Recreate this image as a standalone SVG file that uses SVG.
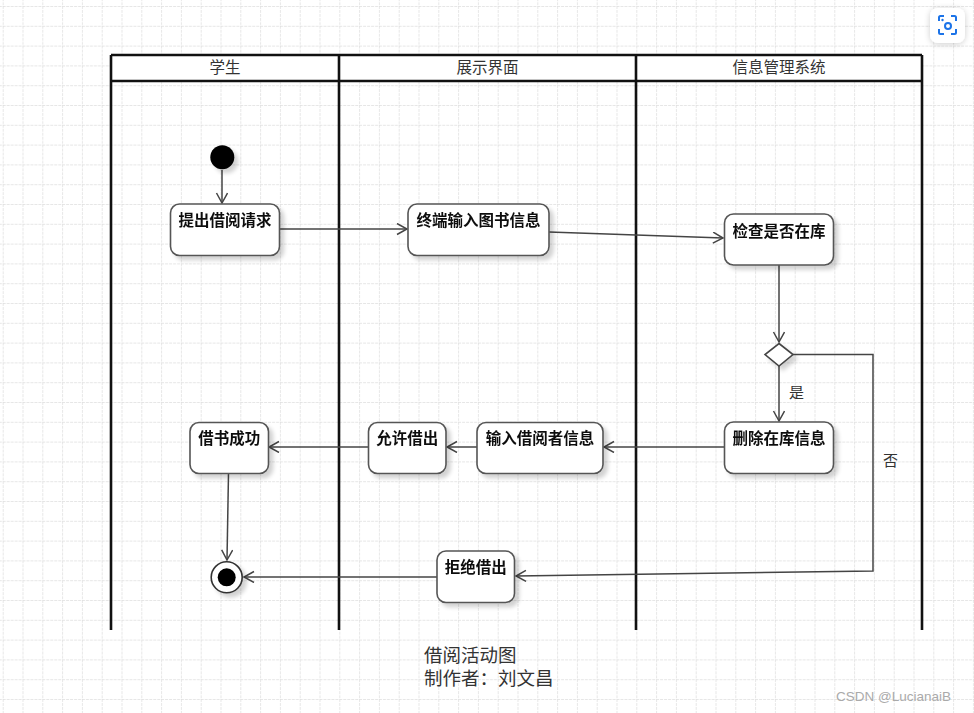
<svg xmlns="http://www.w3.org/2000/svg" width="974" height="713" viewBox="0 0 974 713">
<defs>
<pattern id="grid" x="2.7" y="6" width="19.8" height="19.8" patternUnits="userSpaceOnUse">
<path d="M0,0 H19.8 M0,0 V19.8" stroke="#dedede" stroke-width="1.4" fill="none" stroke-dasharray="3 1"/>
</pattern>
<filter id="sh" x="-20%" y="-20%" width="150%" height="160%">
<feGaussianBlur in="SourceAlpha" stdDeviation="2"/>
<feOffset dx="4" dy="4" result="b"/>
<feComponentTransfer><feFuncA type="linear" slope="0.18"/></feComponentTransfer>
<feMerge><feMergeNode/><feMergeNode in="SourceGraphic"/></feMerge>
</filter>
<filter id="ish" x="-50%" y="-50%" width="200%" height="200%">
<feGaussianBlur in="SourceAlpha" stdDeviation="3"/>
<feOffset dx="0" dy="1"/>
<feComponentTransfer><feFuncA type="linear" slope="0.2"/></feComponentTransfer>
<feMerge><feMergeNode/><feMergeNode in="SourceGraphic"/></feMerge>
</filter>
<marker id="arr" markerWidth="14" markerHeight="14" refX="11" refY="6" orient="auto" markerUnits="userSpaceOnUse">
<path d="M1,0.5 L11,6 L1,11.5" fill="none" stroke="#444" stroke-width="1.5"/>
</marker>
<style>
.lane{stroke:#111;stroke-width:2.6;fill:none}
.hdr{font-family:"Noto Sans CJK SC","Liberation Sans",sans-serif;font-size:15.5px;fill:#333;text-anchor:middle}
.box{fill:#fff;stroke:#555;stroke-width:1.6}
.lbl{font-family:"Noto Sans CJK SC","Liberation Sans",sans-serif;font-size:15.5px;font-weight:bold;fill:#111;text-anchor:middle}
.con{stroke:#444;stroke-width:1.5;fill:none}
.note{font-family:"Noto Sans CJK SC","Liberation Sans",sans-serif;font-size:15px;fill:#333}
.title{font-family:"Noto Sans CJK SC","Liberation Sans",sans-serif;font-size:18.5px;fill:#333}
</style>
</defs>
<rect width="974" height="713" fill="#fff"/>
<rect width="974" height="713" fill="url(#grid)"/>

<g id="swimlanes">
<rect x="111" y="55" width="811" height="26" fill="#fff"/>
<path class="lane" d="M111,55 H922 M111,81 H922 M111,55 V630 M339,55 V630 M636,55 V630 M922,55 V630"/>
<text class="hdr" x="225" y="73">学生</text>
<text class="hdr" x="487.5" y="73">展示界面</text>
<text class="hdr" x="779" y="73">信息管理系统</text>
</g>

<g id="connectors">
<line class="con" x1="222" y1="170" x2="222" y2="203" marker-end="url(#arr)"/>
<line class="con" x1="279" y1="229" x2="407" y2="229" marker-end="url(#arr)"/>
<line class="con" x1="549" y1="232" x2="723" y2="238" marker-end="url(#arr)"/>
<line class="con" x1="779" y1="265" x2="779" y2="342" marker-end="url(#arr)"/>
<line class="con" x1="779" y1="366" x2="779" y2="421" marker-end="url(#arr)"/>
<polyline class="con" points="793,354.5 873,354.5 873,571 516,576" marker-end="url(#arr)"/>
<line class="con" x1="724" y1="447" x2="604" y2="447" marker-end="url(#arr)"/>
<line class="con" x1="477" y1="447" x2="447" y2="447" marker-end="url(#arr)"/>
<line class="con" x1="368" y1="447" x2="269" y2="447" marker-end="url(#arr)"/>
<line class="con" x1="228.5" y1="473" x2="227" y2="560" marker-end="url(#arr)"/>
<line class="con" x1="437" y1="577" x2="244" y2="577" marker-end="url(#arr)"/>
<text class="note" x="789" y="398">是</text>
<text class="note" x="883" y="466">否</text>
</g>

<g id="start" filter="url(#sh)">
<circle cx="222.3" cy="157.3" r="12" fill="#000"/>
</g>
<g id="n1" filter="url(#sh)">
<rect class="box" x="170.5" y="204" width="109" height="51.5" rx="9"/>
<text class="lbl" x="225" y="226">提出借阅请求</text>
</g>
<g id="n2" filter="url(#sh)">
<rect class="box" x="408" y="204" width="141" height="51.5" rx="9"/>
<text class="lbl" x="478.5" y="226">终端输入图书信息</text>
</g>
<g id="n3" filter="url(#sh)">
<rect class="box" x="724.5" y="214" width="109" height="51" rx="9"/>
<text class="lbl" x="779" y="237">检查是否在库</text>
</g>
<g id="decision" filter="url(#sh)">
<polygon points="779,343.5 793,354.5 779,366 765,354.5" fill="#fff" stroke="#444" stroke-width="1.6"/>
</g>
<g id="n4" filter="url(#sh)">
<rect class="box" x="724.5" y="422" width="109" height="51.5" rx="9"/>
<text class="lbl" x="779" y="444">删除在库信息</text>
</g>
<g id="n5" filter="url(#sh)">
<rect class="box" x="477" y="422.5" width="126" height="51" rx="9"/>
<text class="lbl" x="540" y="444">输入借阅者信息</text>
</g>
<g id="n6" filter="url(#sh)">
<rect class="box" x="368.5" y="422.5" width="77.5" height="51" rx="9"/>
<text class="lbl" x="407.3" y="444">允许借出</text>
</g>
<g id="n7" filter="url(#sh)">
<rect class="box" x="190" y="422.5" width="78.5" height="51" rx="9"/>
<text class="lbl" x="229.3" y="444">借书成功</text>
</g>
<g id="n8" filter="url(#sh)">
<rect class="box" x="437" y="551" width="77.5" height="51.5" rx="9"/>
<text class="lbl" x="475.8" y="573">拒绝借出</text>
</g>
<g id="end" filter="url(#sh)">
<circle cx="226.7" cy="577.3" r="15.5" fill="#fff" stroke="#333" stroke-width="1.6"/>
<circle cx="226.7" cy="577.3" r="9" fill="#000"/>
</g>

<g id="caption">
<text class="title" x="424" y="662">借阅活动图</text>
<text class="title" x="424" y="685">制作者：刘文昌</text>
</g>

<g id="watermark">
<text x="836" y="701" font-family="Liberation Sans,sans-serif" font-size="13.5" fill="#aaa">CSDN @LucianaiB</text>
</g>

<g id="lens-icon" filter="url(#ish)">
<rect x="930" y="8" width="35" height="35" rx="8" fill="#fff"/>
<path d="M939,21 V17.5 Q939,16 940.5,16 H944 M951,16 H954.5 Q956,16 956,17.5 V21 M956,29 V32.5 Q956,34 954.5,34 H951 M944,34 H940.5 Q939,34 939,32.5 V29" fill="none" stroke="#1a73e8" stroke-width="2"/>
<circle cx="948" cy="26" r="3" fill="none" stroke="#1a73e8" stroke-width="2"/>
<circle cx="942.5" cy="20" r="1.2" fill="#1a73e8"/>
</g>
</svg>
